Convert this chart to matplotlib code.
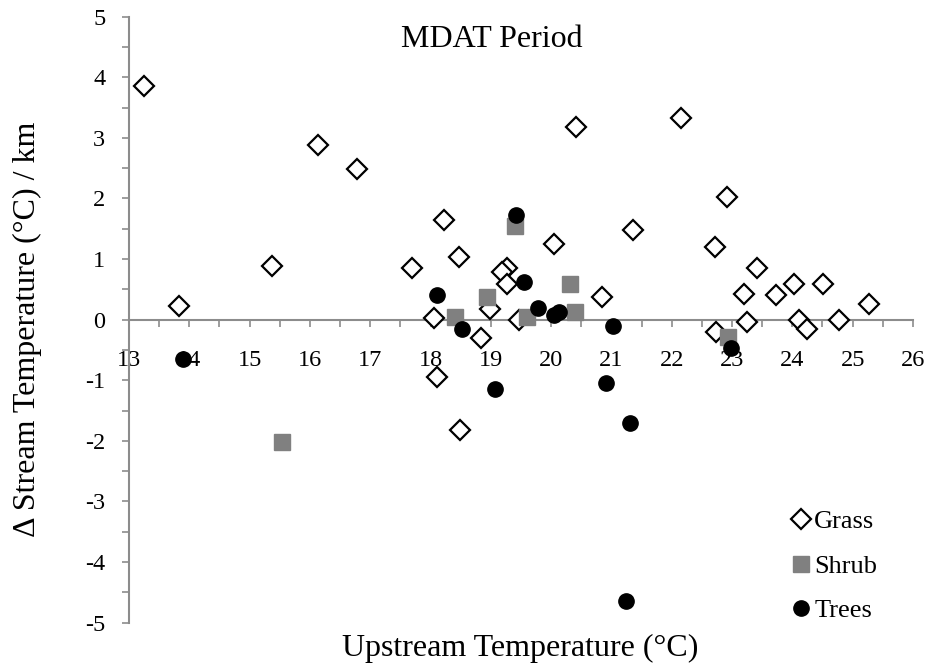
import matplotlib
matplotlib.use('Agg')
import matplotlib.pyplot as plt

# upstream temperature (C) and change in stream temperature per km
grass_x = [13.24, 13.83, 15.37, 16.13, 16.78, 17.69, 18.23, 18.48, 18.05, 18.99,
           19.26, 19.18, 19.27, 19.46, 18.84, 18.10, 18.49, 20.42, 22.16, 22.91,
           21.36, 20.04, 22.72, 23.41, 20.85, 23.20, 23.73, 24.03, 24.51, 25.27,
           23.25, 24.11, 24.24, 24.77, 22.74]
grass_y = [3.85, 0.23, 0.88, 2.88, 2.49, 0.86, 1.64, 1.04, 0.03, 0.18,
           0.85, 0.78, 0.58, -0.01, -0.31, -0.94, -1.82, 3.18, 3.33, 2.03,
           1.48, 1.24, 1.20, 0.85, 0.37, 0.43, 0.41, 0.59, 0.59, 0.26,
           -0.04, -0.01, -0.16, -0.01, -0.21]

shrub_x = [19.40, 18.93, 18.41, 20.31, 20.40, 19.60, 22.94, 15.54]
shrub_y = [1.54, 0.37, 0.05, 0.58, 0.12, 0.05, -0.29, -2.02]

trees_x = [19.42, 18.10, 18.53, 19.55, 19.78, 20.04, 20.13, 21.03, 13.90, 19.07,
           20.91, 21.31, 22.98, 21.24]
trees_y = [1.73, 0.41, -0.15, 0.62, 0.19, 0.07, 0.13, -0.11, -0.65, -1.15,
           -1.04, -1.70, -0.47, -4.64]

xticks = list(range(13, 27))
yticks = list(range(-5, 6))

plt.rcParams['font.family'] = ['Liberation Serif', 'DejaVu Serif']
plt.rcParams['axes.unicode_minus'] = False

fig = plt.figure(figsize=(9.31, 6.69), dpi=100)
ax = fig.add_axes([0.1386, 0.0692, 0.842, 0.906])

ax.plot(grass_x, grass_y, linestyle='none', marker='D', ms=10, mfc='white',
        mec='black', mew=1.6, label='Grass', zorder=3)
ax.plot(shrub_x, shrub_y, linestyle='none', marker='s', ms=11, mfc='#808080',
        mec='#808080', label='Shrub', zorder=3)
ax.plot(trees_x, trees_y, linestyle='none', marker='o', ms=11, mfc='black',
        mec='black', label='Trees', zorder=3)

ax.set_xlim(13, 26)
ax.set_ylim(-5, 5)

axis_col = '#8c8c8c'
ax.spines['top'].set_visible(False)
ax.spines['right'].set_visible(False)
ax.spines['bottom'].set_position(('data', 0))
ax.spines['left'].set_color(axis_col)
ax.spines['bottom'].set_color(axis_col)
ax.spines['left'].set_linewidth(1.5)
ax.spines['bottom'].set_linewidth(1.5)

ax.set_xticks(xticks)
ax.set_yticks(yticks)
ax.set_xticks([t + 0.5 for t in xticks[:-1]], minor=True)
ax.set_yticks([t + 0.5 for t in yticks[:-1]], minor=True)
ax.tick_params(axis='both', which='both', direction='out', length=5,
               width=1.2, color=axis_col, labelsize=17.5, labelcolor='black')
ax.tick_params(axis='x', which='major', pad=17)
ax.tick_params(axis='y', which='major', pad=12)

ax.text(0.4626, 0.962, 'MDAT Period', transform=ax.transAxes, ha='center',
        va='center', fontsize=23)

fig.text(0.029, 0.508, 'Δ Stream Temperature (°C) / km', rotation=90,
         ha='center', va='center', fontsize=23)
fig.text(0.559, 0.030, 'Upstream Temperature (°C)', ha='center', va='center',
         fontsize=23)

ax.legend(loc='lower left', bbox_to_anchor=(0.817, -0.03), frameon=False,
          fontsize=19, handletextpad=0.0, labelspacing=0.8, handlelength=1.0,
          borderaxespad=0.3)

fig.savefig('out.png', dpi=100)
